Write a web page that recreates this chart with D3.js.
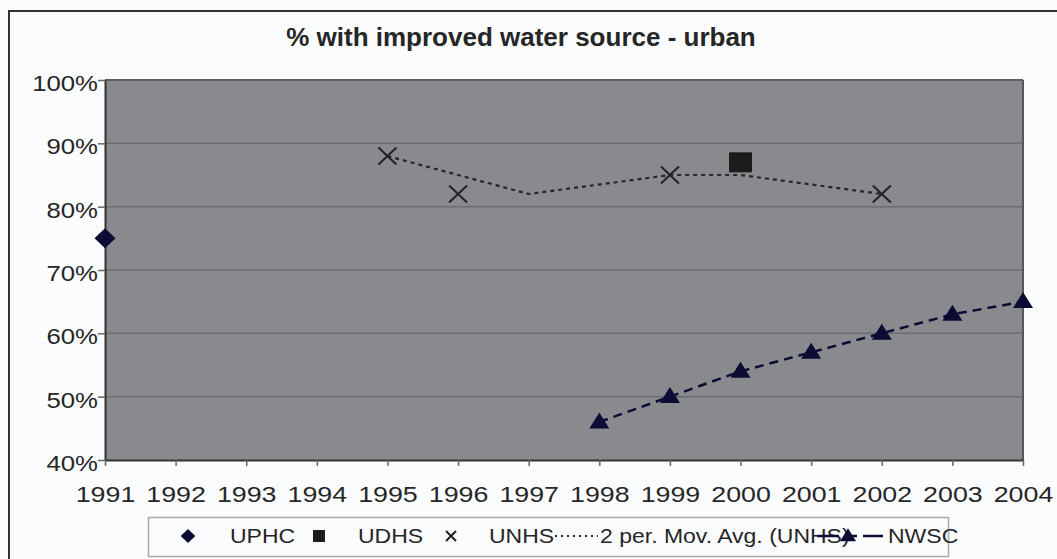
<!DOCTYPE html>
<html>
<head>
<meta charset="utf-8">
<script src="https://cdn.jsdelivr.net/npm/d3@7"></script>
<style>
  body { margin: 0; background: #fbfcfe; }
  text { font-family: "Liberation Sans", Arial, sans-serif; fill: #262626; }
</style>
</head>
<body>
<svg id="chart" width="1057" height="559"></svg>
<script>
// Survey series: % of urban population with an improved water source
const years = d3.range(1991, 2005);
const yTicks = [40, 50, 60, 70, 80, 90, 100];

const uphcYears = [1991];
const uphcValues = [75];

const udhsYears = [2000];
const udhsValues = [87];

const unhsYears = [1995, 1996, 1999, 2002];
const unhsValues = [88, 82, 85, 82];

const movAvgYears = [1995, 1996, 1997, 1999, 2000, 2002];
const movAvgValues = [88, 85, 82, 85, 85, 82];

const nwscYears = [1998, 1999, 2000, 2001, 2002, 2003, 2004];
const nwscValues = [46, 50, 54, 57, 60, 63, 65];

const zip = (xs, vs) => xs.map((x, i) => ({ x, v: vs[i] }));

const svg = d3.select("#chart");
const W = 1057, H = 559;
const plot = { left: 105, right: 1023, top: 80, bottom: 460 };

const x = d3.scaleLinear().domain([1991, 2004]).range([plot.left, plot.right]);
const y = d3.scaleLinear().domain([40, 100]).range([plot.bottom, plot.top]);

const navy = "#0b0b33";
const textScale = "scale(1.19,1)";

// outer chart frame
svg.append("path")
  .attr("d", `M9,${H} V11 H${W}`)
  .attr("fill", "none").attr("stroke", "#333").attr("stroke-width", 2);

// title
svg.append("text")
  .attr("x", 521).attr("y", 46)
  .attr("text-anchor", "middle")
  .attr("font-size", 26).attr("font-weight", "bold")
  .text("% with improved water source - urban");

// plot area
svg.append("rect")
  .attr("x", plot.left).attr("y", plot.top)
  .attr("width", plot.right - plot.left).attr("height", plot.bottom - plot.top)
  .attr("fill", "#898a8e");

// horizontal gridlines
svg.append("g").selectAll("line")
  .data(yTicks.filter(t => t > 40 && t < 100))
  .join("line")
  .attr("x1", plot.left).attr("x2", plot.right)
  .attr("y1", d => y(d)).attr("y2", d => y(d))
  .attr("stroke", "#6c6d71").attr("stroke-width", 1.5);

// top and right plot borders
svg.append("line")
  .attr("x1", plot.left).attr("x2", plot.right)
  .attr("y1", plot.top).attr("y2", plot.top)
  .attr("stroke", "#5c5d61").attr("stroke-width", 2);
svg.append("line")
  .attr("x1", plot.right).attr("x2", plot.right)
  .attr("y1", plot.top).attr("y2", plot.bottom)
  .attr("stroke", "#55565a").attr("stroke-width", 2);

// y axis
const yAxis = svg.append("g")
  .attr("transform", `translate(${plot.left},0)`)
  .call(d3.axisLeft(y).tickValues(yTicks).tickFormat(d => d + "%")
    .tickSize(7).tickSizeOuter(0).tickPadding(-1));
yAxis.select(".domain").attr("stroke", "#333").attr("stroke-width", 2);
yAxis.selectAll(".tick line").attr("stroke", "#666").attr("stroke-width", 1.5);
yAxis.selectAll(".tick text")
  .attr("font-size", 22).attr("font-family", null).attr("fill", "#2a2a2a")
  .attr("dy", "0.47em").attr("transform", "scale(1.17,1)");

// x axis
const xAxis = svg.append("g")
  .attr("transform", `translate(0,${plot.bottom})`)
  .call(d3.axisBottom(x).tickValues(years).tickFormat(d3.format("d"))
    .tickSize(6).tickSizeOuter(0));
xAxis.select(".domain").attr("stroke", "#333").attr("stroke-width", 2);
xAxis.selectAll(".tick line").attr("stroke", "#666").attr("stroke-width", 1.5);
xAxis.selectAll(".tick text")
  .attr("font-size", 22.5).attr("font-family", null).attr("fill", "#2a2a2a")
  .attr("y", 42).attr("dy", 0).attr("transform", textScale);

// marker shapes
const diamondPath = s => `M0,${-s} L${s * 1.05},0 L0,${s} L${-s * 1.05},0 Z`;
const squarePath = (w, h) => `M${-w / 2},${-h / 2} h${w} v${h} h${-w} Z`;
const trianglePath = (w, h) => `M0,${-h * 0.6} L${w / 2},${h * 0.4} L${-w / 2},${h * 0.4} Z`;
const crossPath = (w, h) => `M${-w / 2},${-h / 2} L${w / 2},${h / 2} M${w / 2},${-h / 2} L${-w / 2},${h / 2}`;

const line = d3.line().x(d => x(d.x)).y(d => y(d.v));

// moving average of UNHS
svg.append("path")
  .datum(zip(movAvgYears, movAvgValues))
  .attr("d", line)
  .attr("fill", "none").attr("stroke", "#262626")
  .attr("stroke-width", 2.2).attr("stroke-dasharray", "4,4");

// NWSC series
svg.append("path")
  .datum(zip(nwscYears, nwscValues))
  .attr("d", line)
  .attr("fill", "none").attr("stroke", navy)
  .attr("stroke-width", 2.5).attr("stroke-dasharray", "9,6");

svg.append("g").selectAll("path")
  .data(zip(nwscYears, nwscValues))
  .join("path")
  .attr("transform", d => `translate(${x(d.x)},${y(d.v)})`)
  .attr("d", trianglePath(20, 16))
  .attr("fill", navy);

// UPHC
svg.append("g").selectAll("path")
  .data(zip(uphcYears, uphcValues))
  .join("path")
  .attr("transform", d => `translate(${x(d.x)},${y(d.v)})`)
  .attr("d", diamondPath(10))
  .attr("fill", navy);

// UDHS
svg.append("g").selectAll("path")
  .data(zip(udhsYears, udhsValues))
  .join("path")
  .attr("transform", d => `translate(${x(d.x)},${y(d.v)})`)
  .attr("d", squarePath(23, 20))
  .attr("fill", "#1c1c1c");

// UNHS
svg.append("g").selectAll("path")
  .data(zip(unhsYears, unhsValues))
  .join("path")
  .attr("transform", d => `translate(${x(d.x)},${y(d.v)})`)
  .attr("d", crossPath(18, 17))
  .attr("fill", "none").attr("stroke", "#222").attr("stroke-width", 2);

// legend
const legend = svg.append("g");
legend.append("rect")
  .attr("x", 148.5).attr("y", 517.5).attr("width", 800).attr("height", 39)
  .attr("fill", "#fbfcfe").attr("stroke", "#a9a9a9").attr("stroke-width", 1.5);

const ly = 536;
const legendText = (tx, label) => legend.append("text")
  .attr("transform", `translate(${tx},543) scale(1.15,1)`)
  .attr("font-size", 20).attr("fill", "#2a2a2a").text(label);

legend.append("path").attr("transform", `translate(188,${ly})`)
  .attr("d", diamondPath(7)).attr("fill", navy);
legendText(230, "UPHC");

legend.append("path").attr("transform", `translate(319,${ly})`)
  .attr("d", squarePath(12, 12)).attr("fill", "#1c1c1c");
legendText(358, "UDHS");

legend.append("path").attr("transform", `translate(451,${ly})`)
  .attr("d", crossPath(10, 10)).attr("fill", "none")
  .attr("stroke", "#222").attr("stroke-width", 2);
legendText(489, "UNHS");

legend.append("line")
  .attr("x1", 555).attr("x2", 598).attr("y1", ly).attr("y2", ly)
  .attr("stroke", "#262626").attr("stroke-width", 2).attr("stroke-dasharray", "2,4");
legendText(600, "2 per. Mov. Avg. (UNHS)");

legend.append("line")
  .attr("x1", 817).attr("x2", 883).attr("y1", ly).attr("y2", ly)
  .attr("stroke", navy).attr("stroke-width", 2.5).attr("stroke-dasharray", "22,6,12,6");
legend.append("path").attr("transform", `translate(848,${ly})`)
  .attr("d", trianglePath(16, 13)).attr("fill", navy);
legendText(888, "NWSC");
</script>
</body>
</html>
